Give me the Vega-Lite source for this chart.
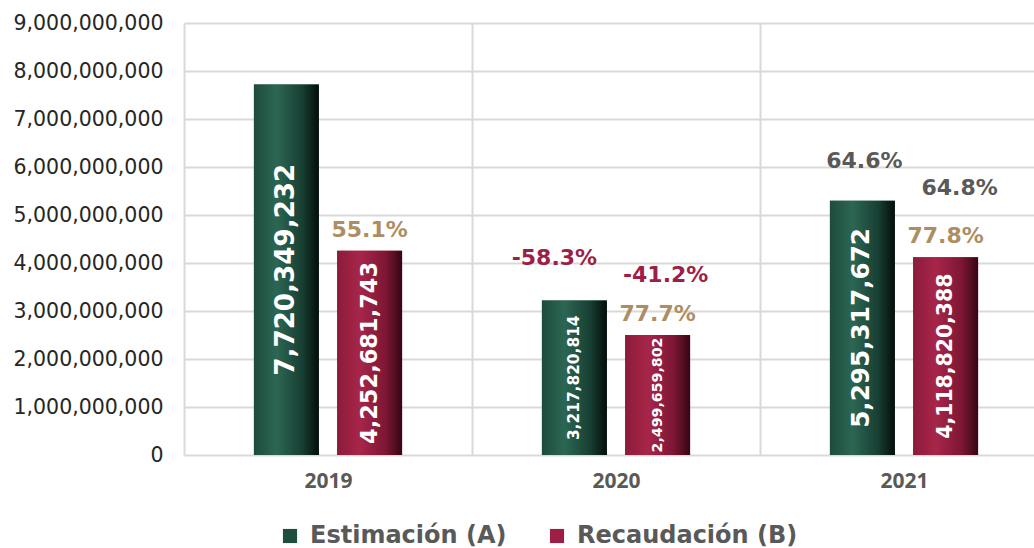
{
  "$schema": "https://vega.github.io/schema/vega-lite/v6.json",
  "width": 850,
  "height": 432,
  "autosize": {"type": "none"},
  "padding": {"left": 184, "top": 23, "right": 0, "bottom": 93},
  "background": "white",
  "config": {"view": {"stroke": null}},
  "data": {
    "values": [
      {"anio": "2019", "serie": "Estimación (A)", "valor": 7720349232, "cambio": null, "avance": null},
      {"anio": "2019", "serie": "Recaudación (B)", "valor": 4252681743, "cambio": null, "avance": "55.1%"},
      {"anio": "2020", "serie": "Estimación (A)", "valor": 3217820814, "cambio": "-58.3%", "avance": null},
      {"anio": "2020", "serie": "Recaudación (B)", "valor": 2499659802, "cambio": "-41.2%", "avance": "77.7%"},
      {"anio": "2021", "serie": "Estimación (A)", "valor": 5295317672, "cambio": "64.6%", "avance": null},
      {"anio": "2021", "serie": "Recaudación (B)", "valor": 4118820388, "cambio": "64.8%", "avance": "77.8%"}
    ]
  },
  "encoding": {
    "x": {
      "field": "anio", "type": "nominal", "title": null,
      "scale": {"range": [0, 864], "paddingInner": 0, "paddingOuter": 0},
      "axis": {
        "labelAngle": 0, "labelFont": "Open Sans", "labelFontWeight": "bold", "labelFontSize": 21,
        "labelColor": "#595959", "labelPadding": 15, "ticks": false, "tickSize": 0, "domain": false,
        "grid": true, "tickBand": "extent", "gridColor": "#d9d9d9", "gridWidth": 2
      }
    },
    "xOffset": {
      "field": "serie", "type": "nominal",
      "scale": {"domain": ["Estimación (A)", "Recaudación (B)"], "paddingInner": 0.22, "paddingOuter": 0.84}
    }
  },
  "layer": [
    {
      "encoding": {
        "y": {
          "field": "valor", "type": "quantitative", "title": null,
          "scale": {"domain": [0, 9000000000], "nice": false},
          "axis": {
            "values": [0, 1000000000, 2000000000, 3000000000, 4000000000, 5000000000, 6000000000, 7000000000, 8000000000, 9000000000],
            "format": ",d", "labelFont": "DejaVu Sans", "labelFontSize": 20.5, "labelColor": "#262626",
            "labelPadding": 21, "ticks": false, "tickSize": 0, "domain": false,
            "grid": true, "gridColor": "#d9d9d9", "gridWidth": 2
          }
        }
      },
      "layer": [
        {
          "mark": {"type": "bar"},
          "encoding": {
            "color": {
              "field": "serie", "type": "nominal",
              "scale": {"domain": ["Estimación (A)", "Recaudación (B)"], "range": ["#1f4e3f", "#9e1f45"]},
              "legend": {
                "orient": "none", "legendX": 94, "legendY": 501, "direction": "horizontal", "title": null,
                "symbolType": "square", "symbolSize": 200, "symbolStrokeWidth": 0, "symbolOpacity": 1,
                "labelFont": "DejaVu Sans", "labelFontWeight": "bold", "labelFontSize": 24, "labelLimit": 0,
                "labelColor": "#595959", "labelOffset": 8, "columnPadding": 38, "padding": 0
              }
            }
          }
        },
        {
          "transform": [{"filter": "datum.serie == 'Estimación (A)'"}],
          "mark": {
            "type": "bar",
            "fill": {
              "gradient": "linear", "x1": 0, "y1": 0, "x2": 1, "y2": 0,
              "stops": [
                {"offset": 0, "color": "#1e4c3d"},
                {"offset": 0.35, "color": "#2c6653"},
                {"offset": 0.75, "color": "#173e32"},
                {"offset": 1, "color": "#030d0a"}
              ]
            }
          }
        },
        {
          "transform": [{"filter": "datum.serie == 'Recaudación (B)'"}],
          "mark": {
            "type": "bar",
            "fill": {
              "gradient": "linear", "x1": 0, "y1": 0, "x2": 1, "y2": 0,
              "stops": [
                {"offset": 0, "color": "#8c1b3a"},
                {"offset": 0.35, "color": "#a7264a"},
                {"offset": 0.75, "color": "#7d1634"},
                {"offset": 1, "color": "#360512"}
              ]
            }
          }
        },
        {
          "transform": [{"filter": "datum.avance != null"}],
          "mark": {"type": "text", "font": "DejaVu Sans", "fontWeight": "bold", "fontSize": 22, "color": "#ad8e62", "baseline": "middle", "dy": -21},
          "encoding": {"text": {"field": "avance"}}
        },
        {
          "transform": [{"filter": "datum.anio == '2020' && datum.serie == 'Estimación (A)'"}],
          "mark": {"type": "text", "font": "DejaVu Sans", "fontWeight": "bold", "fontSize": 22, "color": "#9e1f45", "baseline": "middle", "dx": -20, "dy": -43},
          "encoding": {"text": {"field": "cambio"}}
        },
        {
          "transform": [{"filter": "datum.anio == '2020' && datum.serie == 'Recaudación (B)'"}],
          "mark": {"type": "text", "font": "DejaVu Sans", "fontWeight": "bold", "fontSize": 22, "color": "#9e1f45", "baseline": "middle", "dx": 8, "dy": -60},
          "encoding": {"text": {"field": "cambio"}}
        },
        {
          "transform": [{"filter": "datum.anio == '2021' && datum.serie == 'Estimación (A)'"}],
          "mark": {"type": "text", "font": "DejaVu Sans", "fontWeight": "bold", "fontSize": 22, "color": "#595959", "baseline": "middle", "dx": 2, "dy": -40},
          "encoding": {"text": {"field": "cambio"}}
        },
        {
          "transform": [{"filter": "datum.anio == '2021' && datum.serie == 'Recaudación (B)'"}],
          "mark": {"type": "text", "font": "DejaVu Sans", "fontWeight": "bold", "fontSize": 22, "color": "#595959", "baseline": "middle", "dx": 14, "dy": -69},
          "encoding": {"text": {"field": "cambio"}}
        }
      ]
    },
    {
      "mark": {"type": "text", "font": "DejaVu Sans", "fontWeight": "bold", "color": "white", "angle": 270, "align": "center", "baseline": "middle"},
      "encoding": {
        "y": {"field": "valor", "type": "quantitative", "scale": {"domain": [0, 18000000000], "nice": false}, "axis": null},
        "text": {"field": "valor", "type": "quantitative", "format": ",d"},
        "size": {
          "field": "valor", "type": "quantitative", "legend": null,
          "scale": {"domain": [2499659802, 3217820814, 4118820388, 4252681743, 5295317672, 7720349232], "range": [14.2, 15.4, 20.4, 22.5, 24.7, 26.2]}
        }
      }
    }
  ],
  "resolve": {"scale": {"y": "independent"}}
}
